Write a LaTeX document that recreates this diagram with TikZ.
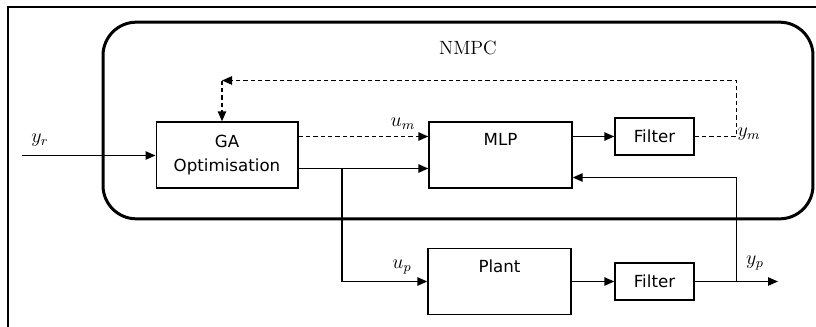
\documentclass[tikz,border=0pt]{standalone}
\usepackage{amsmath,amssymb}
\usepackage{xcolor}
\usepackage{fontspec}
\setsansfont{DejaVu Sans}
\usepackage{tikz}
\usetikzlibrary{arrows.meta,positioning,calc}

\begin{document}
\begin{tikzpicture}[
    x=0.6pt, y=-0.6pt,
    block/.style={rectangle, draw, line width=0.8pt, align=center,
        font=\sffamily\fontsize{10}{14.4}\selectfont},
    arrow/.style={-{Triangle[length=6pt,width=5pt]}, line width=1pt},
    wire/.style={line width=1pt},
    dashline/.style={line width=1pt, dash pattern=on 2.6pt off 1.8pt}
]
    \useasboundingbox (0,0) rectangle (816,327);

    % Page frame
    \draw[line width=1.3pt] (8,327) -- (8,7) -- (816,7);

    % NMPC controller
    \node[draw, rounded corners=20pt, line width=1.8pt, minimum width=426pt,
        minimum height=118pt] (nmpc) at (458,120.5) {};
    \node[font=\fontsize{11.5}{13}\selectfont] (nmpclabel) at (468,48) {NMPC};

    % Blocks inside NMPC
    \node[block, minimum width=85pt, minimum height=39.6pt] (ga) at (227,155) {GA\\Optimisation};
    \node[block, minimum width=85.8pt, minimum height=39.6pt] (mlp) at (500.5,155) {MLP\\\strut};
    \node[block, minimum width=47.4pt, minimum height=22.2pt] (ftop) at (654.5,136.5) {Filter};

    % Plant side
    \node[block, minimum width=85.8pt, minimum height=39.6pt] (plant) at (499.5,281.5) {Plant\\\strut};
    \node[block, minimum width=47.4pt, minimum height=22.2pt] (fbot) at (654.5,281.5) {Filter};

    % Junctions and free ends
    \coordinate (yrin) at (22,155.5);
    \coordinate (split) at (342,168.5);
    \coordinate (ym) at (736.5,136.5);
    \coordinate (corner) at (222,80.5);
    \coordinate (tap) at (736.5,281.5);
    \coordinate (fbk) at (736.5,177.5);
    \coordinate (yp) at (778,281.5);

    % Reference input
    \draw[arrow] (yrin) -- (ga.west |- yrin);
    \node[font=\large] (yrlabel) at (40,140) {$y_r$};

    % Model input (dashed)
    \draw[arrow, dashline] (ga.east |- ftop.center) -- (mlp.west |- ftop.center);
    \node[font=\large] (umlabel) at (403,124) {$u_m$};

    % Control signal to MLP and plant
    \draw[wire] (ga.east |- split) -- (split);
    \draw[arrow] (split) -- (mlp.west |- split);
    \draw[arrow] (split) |- (plant.west);
    \node[font=\large] (uplabel) at (402,267) {$u_p$};

    % MLP prediction loop
    \draw[arrow] (mlp.east |- ftop.center) -- (ftop.west);
    \draw[arrow, dashline] (ftop.east) -- (ym) -- (ym |- corner) -- (corner);
    \draw[arrow, dashline] (corner) -- (corner |- ga.north);
    \node[font=\large] (ymlabel) at (749,134) {$y_m$};

    % Plant output
    \draw[arrow] (plant.east) -- (fbot.west);
    \draw[arrow] (fbot.east) -- (yp);
    \draw[arrow] (tap) -- (fbk) -- (mlp.east |- fbk);
    \node[font=\large] (yplabel) at (755,263) {$y_p$};

\end{tikzpicture}
\end{document}
